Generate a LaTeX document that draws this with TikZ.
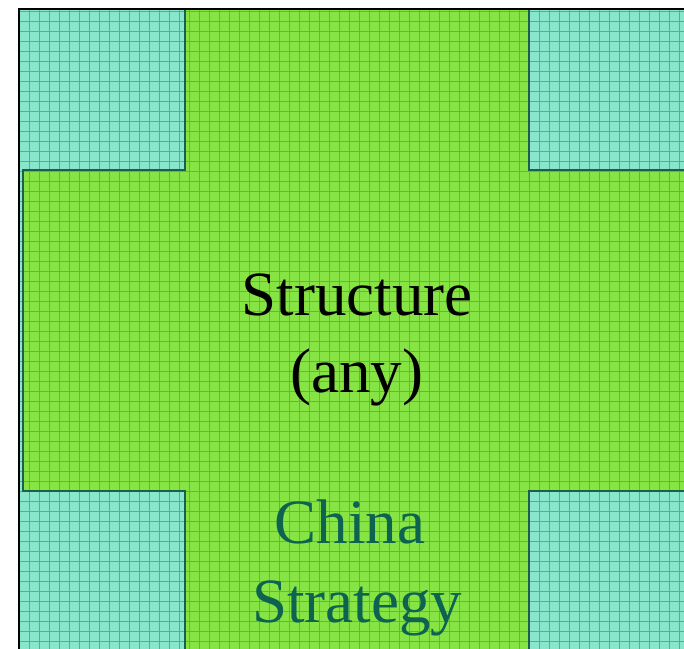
\documentclass[tikz,border=0pt]{standalone}
\usepackage{fontspec}
\setmainfont{Liberation Serif}
\definecolor{crossgreen}{HTML}{86E444}
\definecolor{cornerteal}{HTML}{88E6CA}
\definecolor{gridteal}{HTML}{18CC98}
\definecolor{edgedark}{HTML}{1E5E50}
\definecolor{chinatext}{HTML}{0D6350}
\tikzset{
  crossfill/.style={fill=crossgreen},
  cornerfill/.style={fill=cornerteal},
  gridline/.style={draw=gridteal, line width=1.05bp},
  crossedge/.style={draw=edgedark, line width=1.3bp},
  frameline/.style={draw=black, line width=1.6bp},
  bigtext/.style={font=\fontsize{63bp}{75bp}\selectfont, anchor=base, inner sep=0pt},
}
\begin{document}
\begin{tikzpicture}[x=1bp,y=-1bp]
\useasboundingbox (0,0) rectangle (684,649);
% background (corners)
\fill[cornerfill] (19,9) rectangle (684,649);
% cross
\fill[crossfill] (185,9) rectangle (529,649);
\fill[crossfill] (23,170) rectangle (684,491);
% grid
\foreach \gx in {29.5,39.5,...,679.5} {\draw[gridline] (\gx,9) -- (\gx,649);}
\foreach \gy in {11.5,21.5,...,641.5} {\draw[gridline] (19,\gy) -- (684,\gy);}
% cross outline
\draw[crossedge] (185,9) -- (185,170) -- (23,170) -- (23,491) -- (185,491) -- (185,649);
\draw[crossedge] (529,9) -- (529,170) -- (684,170);
\draw[crossedge] (529,649) -- (529,491) -- (684,491);
% frame
\draw[frameline] (19,649) -- (19,9) -- (684,9);
% texts
\node[bigtext] (s1) at (357,315) {Structure};
\node[bigtext] (s2) at (357,392) {(any)};
\node[bigtext, text=chinatext] (c1) at (350,543) {China};
\node[bigtext, text=chinatext] (c2) at (357,622) {Strategy};
\end{tikzpicture}
\end{document}
